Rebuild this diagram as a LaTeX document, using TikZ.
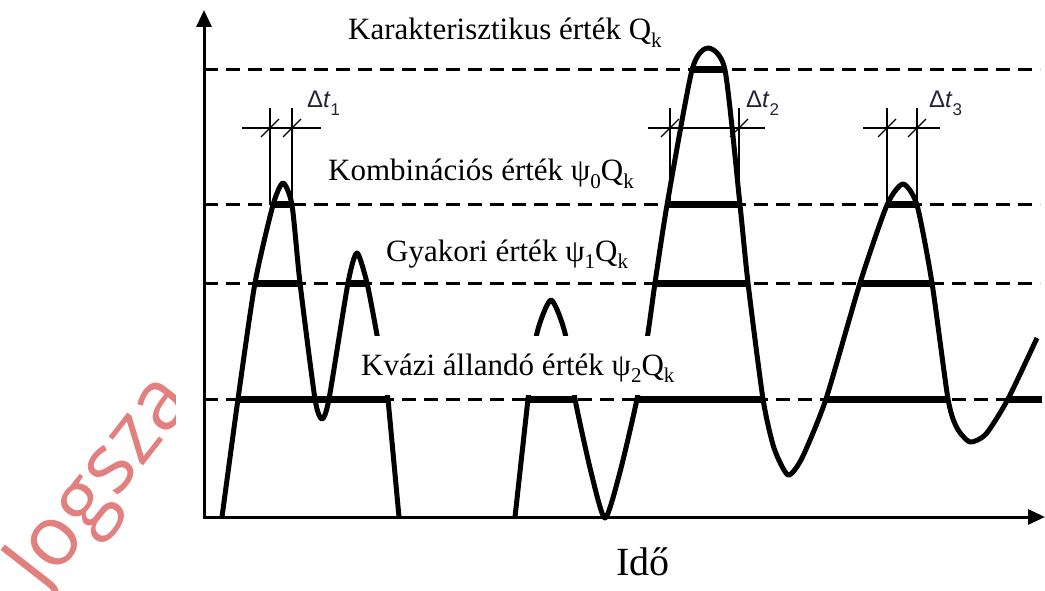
\documentclass[tikz,border=0pt]{standalone}
\usepackage{fontspec}
\setmainfont{Liberation Serif}
\newfontfamily\dtfont{Liberation Sans}
\newfontfamily\wmfont{Open Sans}
\usetikzlibrary{arrows.meta}
\definecolor{wm}{RGB}{226,128,128}
\definecolor{dtcol}{RGB}{35,35,55}
\newcommand\lowsub[1]{\raisebox{-0.25em}{\fontsize{21}{21}\selectfont #1}}
\newcommand\dsub[1]{\raisebox{-0.3em}{\fontsize{17}{17}\selectfont #1}}
\begin{document}
\begin{tikzpicture}[x=1pt,y=-1pt,
 axis/.style={line width=3pt,{Triangle[length=17pt,width=15pt]}-{Triangle[length=17pt,width=15pt]}},
 level/.style={line width=3pt,dash pattern=on 14pt off 8pt},
 signal/.style={line width=5pt,line join=round},
 bar/.style={line width=7pt},
 thin/.style={line width=1.2pt},
 lab/.style={font=\fontsize{31}{31}\selectfont,anchor=base west,inner sep=0pt},
 dt/.style={font=\dtfont\fontsize{24}{24}\selectfont,text=dtcol,anchor=base west,inner sep=0pt}]
\useasboundingbox (0,0) rectangle (1045,591);
% watermark
\begin{scope}
\clip (0,380) rectangle (175,591);
\node[rotate=52,text=wm,font=\wmfont\fontsize{84}{84}\selectfont,anchor=base west,inner sep=0pt] (wmark) at (43,594) {Jogsza};
\end{scope}
% levels
\foreach \y in {70,205,283,399} \draw[level] (204,\y) -- (1040,\y);
% signal
\draw[signal] plot[smooth,tension=0.4] coordinates {(222,517) (238,399) (255,283) (273,205) (283,183) (292,205) (300,283) (315,399) (322,419) (329,399) (348,283) (357,253) (367,283) (377,335) (388,399)} -- (399,517);
\draw[signal] (515,517) -- plot[smooth,tension=0.4] coordinates {(528,399) (537,333) (551,300) (565,333) (575,399) (591,472) (605,518) (620,472) (637,399) (648,333) (655,283) (667,205) (692,70) (708,48) (725,70) (740,205) (748,283) (763,399) (774,448) (788,475) (802,458) (826,399) (860,283) (887,205) (903,184) (917,205) (932,283) (948,399) (957,428) (970,442) (986,434) (1008,399) (1037,338)};
% thick bars
\foreach \a/\b/\y in {238/388/399,528/575/399,637/763/399,827/948/399,1008/1042/399,
  255/300/283,348/367/283,653/748/283,860/932/283,
  273/291/205,667/740/205,887/917/205, 692/725/70}
  \draw[bar] (\a,\y) -- (\b,\y);
% label cover
\fill[white] (350,336) rectangle (690,395);
% labels
\node[lab] (lk) at (348,40) {Karakterisztikus érték Q\lowsub{k}};
\node[lab] (l0) at (328,181) {Kombinációs érték ψ\lowsub{0}Q\lowsub{k}};
\node[lab] (l1) at (386,261) {Gyakori érték ψ\lowsub{1}Q\lowsub{k}};
\node[lab] (l2) at (361,375) {Kvázi állandó érték ψ\lowsub{2}Q\lowsub{k}};
\node[font=\fontsize{40}{40}\selectfont,anchor=base,inner sep=0pt] (ido) at (643,575) {Idő};
% delta t markers
\foreach \l/\r/\ha/\hb in {270/292/242/321, 670/739/648/765, 887/917/863/940}{
  \draw[thin] (\l,108) -- (\l,205);
  \draw[thin] (\r,108) -- (\r,205);
  \draw[thin] (\ha,128) -- (\hb,128);
  \draw[thin] (\l-9,137) -- (\l+9,119);
  \draw[thin] (\r-9,137) -- (\r+9,119);
}
\node[dt] (dt1) at (307,108) {Δ\textit{t}\dsub{1}};
\node[dt] (dt2) at (746,108) {Δ\textit{t}\dsub{2}};
\node[dt] (dt3) at (929,108) {Δ\textit{t}\dsub{3}};
% axes
\coordinate (yt) at (204,10);
\coordinate (o) at (204,517);
\coordinate (xt) at (1045,517);
\draw[axis] (yt) -- (o) -- (xt);
\end{tikzpicture}
\end{document}
